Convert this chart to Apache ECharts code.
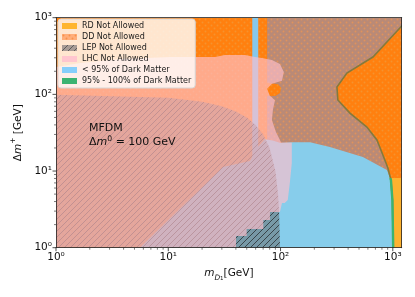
<!DOCTYPE html>
<html><head><meta charset="utf-8">
<script src="https://cdn.jsdelivr.net/npm/echarts@6/dist/echarts.min.js"></script>
<style>html,body{margin:0;padding:0;background:#fff}#c{width:415px;height:297px}</style>
</head><body><div id="c"></div>
<script>
// ---------- data ----------
const xRange = [1, 1200];
const yRange = [1, 1000];
const xMajor = [1, 10, 100, 1000];
const xMinor = [2,3,4,5,6,7,8,9,20,30,40,50,60,70,80,90,200,300,400,500,600,700,800,900];
const yMajor = [1, 10, 100, 1000];
const yMinor = [2,3,4,5,6,7,8,9,20,30,40,50,60,70,80,90,200,300,400,500,600,700,800,900];
const legendNames = ['RD Not Allowed','DD Not Allowed','LEP Not Allowed','LHC Not Allowed','< 95% of Dark Matter','95% - 100% of Dark Matter'];

// whole plane (DD excluded on top of RD excluded)
const ddPlane = [[1,1],[1200,1],[1200,1000],[1,1000]];
// relic density = observed curve (95%-100%)
const relicCurve = [[1400,1000],[1156,734],[665,307],[390,190],[318,125],[324,84.5],[415,57],[588,37.5],[722,25.4],[816,16.2],[904,10.95],[962,7.64],[992,4.19],[1008,1]];
const relicVisible = [[950,8.1],[962,7.64],[992,4.19],[1008,1]];
// RD excluded, not covered by DD
const rdOnly = [[950,8.1],[962,7.64],[992,4.19],[1008,1],[1200,1],[1200,8.1]];
// left edge of under-abundant region under DD (bottom to top)
const underLeftEdge = [[76,1],[76,96],[90,95],[99,104],[101,122],[95,136],[80,140],[76,142],[76,1000]];
// upper edge of under-abundant region not covered by DD
const underEdge = [[5.6,1],[30.7,11.3],[53.4,13.5],[62,20],[72,26],[85,25],[100,23.2],[129,23.8],[183,23.8],[275,20.6],[541,15.2],[886,10.3]];
// Higgs resonance strip
const stripe = [[56,1],[63.3,1],[63.3,1000],[56,1000]];
// LEP excluded region
const lepRegion = [[1,1],[1,99],[10,90],[20,80],[30,70],[40,60],[50,50],[60,40],[70,30],[80,20],[90,10],[95,5],[97,3],[99,1]];
// LHC excluded region
const lhcRegion = [[1,1],[1,227],[1.64,256],[3.71,289],[10.4,307],[26.1,307],[32,326],[48.2,326],[59.2,307],[68.3,298],[83.8,281],[98.8,249],[107,196],[103,150],[84,138],[76,118],[80,97],[89.2,84],[85.5,62.5],[83.8,46.3],[91,32.3],[98.8,25.4],[100.8,23.5],[126,23.5],[126,12.7],[121,6.98],[116,4.19],[109,3.83],[103,3.83],[98.8,2.92],[80.5,2.92],[80.5,2.3],[70.2,2.3],[70.2,1.75],[49.9,1.75],[49.9,1.42],[40.1,1.42],[40.1,1]];

// ---------- patterns ----------
function pattern(w, h, bg, draw) {
  const c = document.createElement('canvas');
  c.width = w; c.height = h;
  const g = c.getContext('2d');
  if (bg) { g.fillStyle = bg; g.fillRect(0, 0, w, h); }
  if (draw) draw(g, w, h);
  return { image: c, repeat: 'repeat' };
}
function dots(col) {
  return function (g) {
    g.fillStyle = col;
    [[1.5,1.5],[4.5,4.5]].forEach(function (p) { g.beginPath(); g.arc(p[0], p[1], 0.95, 0, Math.PI * 2); g.fill(); });
  };
}
function hatch(col, lw) {
  return function (g, w, h) {
    g.strokeStyle = col; g.lineWidth = lw;
    [[-w, 0], [0, 0], [w, 0]].forEach(function (o) {
      g.beginPath(); g.moveTo(o[0], h); g.lineTo(o[0] + w, 0); g.stroke();
    });
  };
}
const patOrange = pattern(6, 6, '#ff800f', dots('#f5922f'));
const patBrown = pattern(6, 6, '#b98a77', dots('#e0925c'));
const patLep = pattern(6, 6, 'rgba(105,105,105,0.52)', hatch('rgba(20,20,20,0.75)', 0.85));
const patLegDD = pattern(6, 6, '#ffae7a', dots('#f7924a'));
const patLegLEP = pattern(6, 6, '#a89c96', hatch('#555', 0.9));

// ---------- series helpers ----------
let zc = 2;
function polySeries(name, pts, fill) {
  return {
    type: 'custom', name: name, coordinateSystem: 'cartesian2d', clip: true, silent: true, z: zc++,
    data: pts,
    renderItem: function (params, api) {
      if (params.dataIndex !== 0) return null;
      return { type: 'polygon', shape: { points: pts.map(function (p) { return api.coord(p); }) }, style: { fill: fill } };
    }
  };
}
function lineSeries(name, pts, stroke, width) {
  return {
    type: 'custom', name: name, coordinateSystem: 'cartesian2d', clip: true, silent: true, z: zc++,
    data: pts,
    renderItem: function (params, api) {
      if (params.dataIndex !== 0) return null;
      return { type: 'polyline', shape: { points: pts.map(function (p) { return api.coord(p); }) }, style: { stroke: stroke, lineWidth: width, fill: null } };
    }
  };
}
function tickSeries(axis) {
  const major = axis === 'x' ? xMajor : yMajor;
  const minor = axis === 'x' ? xMinor : yMinor;
  const d = major.map(function (v) { return [v, 1]; }).concat(minor.map(function (v) { return [v, 0]; }));
  return {
    type: 'custom', name: axis + 'ticks', coordinateSystem: 'cartesian2d', clip: false, silent: true, z: 40,
    data: d,
    renderItem: function (params, api) {
      const v = api.value(0), big = api.value(1) === 1;
      const len = big ? 3.5 : 2;
      if (axis === 'x') {
        const p = api.coord([v, yRange[0]]);
        return { type: 'line', shape: { x1: p[0], y1: p[1], x2: p[0], y2: p[1] + len }, style: { stroke: '#222', lineWidth: big ? 0.8 : 0.6 } };
      } else {
        const p = api.coord([xRange[0], v]);
        return { type: 'line', shape: { x1: p[0], y1: p[1], x2: p[0] - len, y2: p[1] }, style: { stroke: '#222', lineWidth: big ? 0.8 : 0.6 } };
      }
    }
  };
}

const FONT = 'DejaVu Sans';
const sup = { '0': '⁰', '1': '¹', '2': '²', '3': '³' };
function logLabel(v) {
  const e = Math.log10(v);
  if (Math.abs(e - Math.round(e)) > 1e-6) return '';
  return '10' + sup[String(Math.round(e))];
}
const axisCommon = {
  type: 'log', logBase: 10, z: 50,
  axisLine: { show: true, onZero: false, lineStyle: { color: '#222', width: 0.8 } },
  axisTick: { show: false }, minorTick: { show: false }, splitLine: { show: false }, minorSplitLine: { show: false }
};
const labelStyle = { fontSize: 10.5, fontFamily: FONT, color: '#111', formatter: logLabel };

const chart = echarts.init(document.getElementById('c'), null, { renderer: 'canvas' });
chart.setOption({
  animation: false,
  backgroundColor: '#fff',
  grid: { left: 56, right: 13.3, top: 17.7, bottom: 49.3 },
  xAxis: [
    Object.assign({}, axisCommon, {
      min: xRange[0], max: xRange[1], position: 'bottom',
      axisLabel: Object.assign({ margin: 4 }, labelStyle),
      name: '{i|m}{sub|D}{subsub|1}{n|[GeV]}', nameLocation: 'middle', nameGap: 17,
      nameTextStyle: { rich: {
        i: { fontSize: 10.5, fontFamily: FONT, fontStyle: 'italic', lineHeight: 16, color: '#111' },
        n: { fontSize: 10.5, fontFamily: FONT, lineHeight: 16, color: '#111' },
        sub: { fontSize: 7.4, fontFamily: FONT, fontStyle: 'italic', lineHeight: 10, verticalAlign: 'bottom', color: '#111' },
        subsub: { fontSize: 5.5, fontFamily: FONT, lineHeight: 4, verticalAlign: 'bottom', color: '#111' }
      } }
    }),
    Object.assign({}, axisCommon, { min: xRange[0], max: xRange[1], position: 'top', axisLabel: { show: false } })
  ],
  yAxis: [
    Object.assign({}, axisCommon, {
      min: yRange[0], max: yRange[1], position: 'left',
      axisLabel: Object.assign({ margin: 4 }, labelStyle),
      name: '{n|Δ}{i|m}{s|+}{n| [GeV]}', nameLocation: 'middle', nameGap: 23, nameRotate: 90,
      nameTextStyle: { rich: {
        i: { fontSize: 10.5, fontFamily: FONT, fontStyle: 'italic', lineHeight: 16, color: '#111' },
        n: { fontSize: 10.5, fontFamily: FONT, lineHeight: 16, color: '#111' },
        s: { fontSize: 7.4, fontFamily: FONT, lineHeight: 8, verticalAlign: 'top', color: '#111' }
      } }
    }),
    Object.assign({}, axisCommon, { min: yRange[0], max: yRange[1], position: 'right', axisLabel: { show: false } })
  ],
  legend: {
    left: 58, top: 19, orient: 'vertical', icon: 'rect', itemWidth: 15, itemHeight: 6, itemGap: 1,
    padding: [2, 4, 2, 4], backgroundColor: 'rgba(255,255,255,0.8)', borderColor: '#d6d6d6', borderWidth: 1, borderRadius: 3,
    selectedMode: false, z: 60,
    textStyle: { fontSize: 8, fontFamily: FONT, color: '#1a1a1a', lineHeight: 10 },
    data: [
      { name: legendNames[0], itemStyle: { color: '#ffb52e' } },
      { name: legendNames[1], itemStyle: { color: patLegDD } },
      { name: legendNames[2], itemStyle: { color: patLegLEP } },
      { name: legendNames[3], itemStyle: { color: '#ffc6cf' } },
      { name: legendNames[4], itemStyle: { color: '#87cefa' } },
      { name: legendNames[5], itemStyle: { color: '#3cb371' } }
    ]
  },
  graphic: [{
    type: 'text', left: 89, top: 123, z: 60,
    style: {
      text: '{t|MFDM}\n{t|Δ}{i|m}{s|0}{t| = 100 GeV}',
      rich: {
        t: { fontSize: 11, fontFamily: FONT, lineHeight: 14, fill: '#111' },
        i: { fontSize: 11, fontFamily: FONT, fontStyle: 'italic', lineHeight: 14, fill: '#111' },
        s: { fontSize: 7.7, fontFamily: FONT, lineHeight: 8, verticalAlign: 'top', fill: '#111' }
      }
    }
  }],
  series: [
    polySeries(legendNames[1], ddPlane, patOrange),
    polySeries(legendNames[0], rdOnly, '#fdb22f'),
    polySeries('DD over under-abundant', relicCurve.concat(underLeftEdge), patBrown),
    polySeries(legendNames[4], underEdge.concat(relicCurve.slice(11)), '#87cdeb'),
    polySeries('Higgs funnel', stripe, '#87c8ea'),
    lineSeries('relic under DD', relicCurve, '#857a3c', 1.6),
    lineSeries(legendNames[5], relicVisible, '#3cb371', 2.4),
    polySeries(legendNames[2], lepRegion, patLep),
    polySeries(legendNames[3], lhcRegion, 'rgba(255,192,203,0.66)'),
    tickSeries('x'),
    tickSeries('y')
  ]
});
</script></body></html>
